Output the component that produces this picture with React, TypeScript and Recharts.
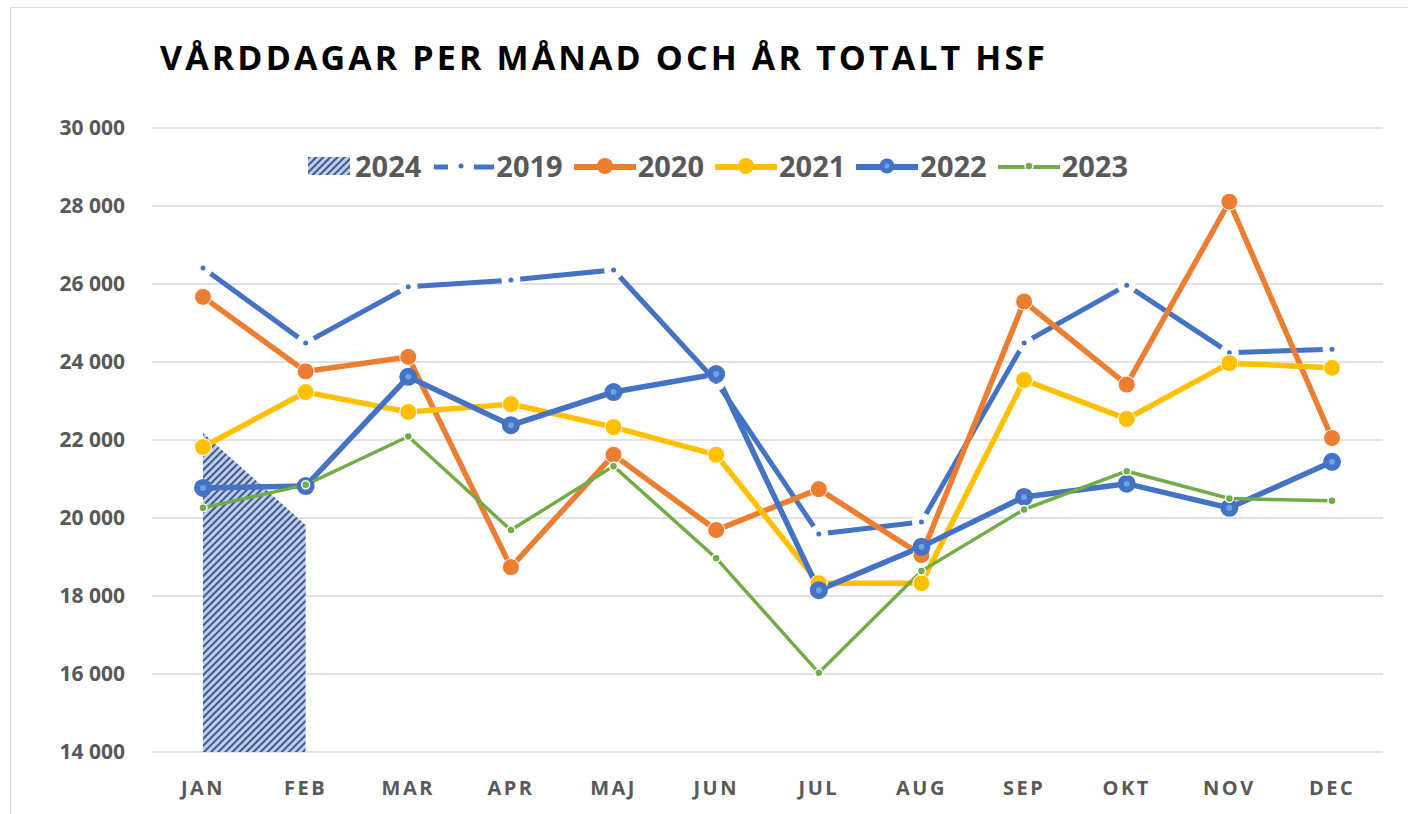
import React from "react";
import { ComposedChart, Line, Area, XAxis, YAxis, CartesianGrid, Legend } from "recharts";

const MONTHS = ["JAN", "FEB", "MAR", "APR", "MAJ", "JUN", "JUL", "AUG", "SEP", "OKT", "NOV", "DEC"];
const Y_TICKS = [14000, 16000, 18000, 20000, 22000, 24000, 26000, 28000, 30000];

// values
const V2024 = [22180, 19820, null, null, null, null, null, null, null, null, null, null];
const V2019 = [26410, 24490, 25930, 26100, 26360, 23500, 19590, 19900, 24490, 25970, 24240, 24330];
const V2020 = [25670, 23760, 24130, 18740, 21620, 19690, 20740, 19050, 25550, 23420, 28110, 22050];
const V2021 = [21820, 23230, 22720, 22920, 22330, 21620, 18330, 18330, 23540, 22540, 23970, 23850];
const V2022 = [20770, 20820, 23620, 22380, 23230, 23690, 18150, 19260, 20540, 20880, 20260, 21440];
const V2023 = [20260, 20850, 22090, 19690, 21330, 18970, 16030, 18640, 20220, 21200, 20500, 20440];

const data = MONTHS.map((m, i) => ({
  month: m,
  y2024: V2024[i],
  y2019: V2019[i],
  y2020: V2020[i],
  y2021: V2021[i],
  y2022: V2022[i],
  y2023: V2023[i],
}));

const BLUE = "#4472c4";
const ORANGE = "#ed7d31";
const YELLOW = "#ffc000";
const GREEN = "#70ad47";
const GREY = "#595959";
const FONT = "'Open Sans', 'Liberation Sans', sans-serif";

const fmt = (v: number) => {
  const s = String(v);
  return s.slice(0, s.length - 3) + " " + s.slice(-3);
};

function HatchDefs() {
  return (
    <pattern id="hatch24" patternUnits="userSpaceOnUse" width="5" height="5" patternTransform="rotate(45)">
      <rect width="5" height="5" fill="#c0cde8" />
      <line x1="1" y1="0" x2="1" y2="5" stroke="#304c88" strokeWidth="1.8" />
    </pattern>
  );
}

function LineIcon({ kind }: { kind: string }) {
  if (kind === "2024") {
    return (
      <svg width={42} height={18} style={{ display: "block" }}>
        <defs><HatchDefs /></defs>
        <rect width={42} height={18} fill="url(#hatch24)" />
      </svg>
    );
  }
  const map: Record<string, { c: string; w: number; r: number; f: string; s: string; sw: number }> = {
    "2020": { c: ORANGE, w: 6, r: 8, f: ORANGE, s: ORANGE, sw: 0 },
    "2021": { c: YELLOW, w: 6, r: 8, f: YELLOW, s: YELLOW, sw: 0 },
    "2022": { c: BLUE, w: 6, r: 5, f: "#6fa3dc", s: BLUE, sw: 5 },
    "2023": { c: GREEN, w: 4, r: 4, f: GREEN, s: "#fff", sw: 1.5 },
  };
  if (kind === "2019") {
    return (
      <svg width={62} height={20} style={{ display: "block" }}>
        <line x1={2} y1={11} x2={16} y2={11} stroke={BLUE} strokeWidth={5} />
        <circle cx={29} cy={10} r={2.5} fill={BLUE} />
        <line x1={42} y1={11} x2={62} y2={11} stroke={BLUE} strokeWidth={5} />
      </svg>
    );
  }
  const m = map[kind];
  return (
    <svg width={62} height={20} style={{ display: "block" }}>
      <line x1={0} y1={11} x2={62} y2={11} stroke={m.c} strokeWidth={m.w} />
      <circle cx={31} cy={10} r={m.r} fill={m.f} stroke={m.s} strokeWidth={m.sw} />
    </svg>
  );
}

const LEGEND_KEYS = ["2024", "2019", "2020", "2021", "2022", "2023"];

function LegendRow() {
  return (
    <div style={{ display: "flex", alignItems: "center", fontFamily: FONT, fontWeight: 700, fontSize: 29, color: GREY, lineHeight: "36px" }}>
      {LEGEND_KEYS.map((k) => (
        <div key={k} style={{ display: "flex", alignItems: "center", marginRight: 11 }}>
          <LineIcon kind={k} />
          <span style={{ marginLeft: k === "2024" ? 5 : 2 }}>{k}</span>
        </div>
      ))}
    </div>
  );
}

export default function App() {
  return (
    <div style={{ position: "fixed", left: 0, top: 0, width: 1408, height: 814, overflow: "hidden", background: "#fff" }}>
      <div style={{ position: "absolute", left: 10, top: 7, width: 1500, height: 900, border: "1.5px solid #d9d9d9" }} />
      <svg width={1408} height={100} style={{ position: "absolute", left: 0, top: 0 }}>
        <text x={160} y={70} fontFamily={FONT} fontWeight={700} fontSize={34} fill="#000" textLength={885} lengthAdjust="spacing">
          VÅRDDAGAR PER MÅNAD OCH ÅR TOTALT HSF
        </text>
      </svg>
      <div style={{ position: "absolute", left: 0, top: 0 }}>
        <ComposedChart width={1408} height={814} data={data} margin={{ top: 128, right: 25, bottom: 0, left: 0 }}>
          <defs>
            <HatchDefs />
          </defs>
          <CartesianGrid vertical={false} stroke="#d9d9d9" strokeWidth={1.5} />
          <XAxis
            dataKey="month"
            scale="point"
            padding={{ left: 51, right: 51 }}
            height={62}
            axisLine={false}
            tickLine={false}
            tickSize={0}
            tickMargin={29}
            tick={{ fill: GREY, fontSize: 20, fontWeight: 700, fontFamily: FONT, letterSpacing: 2.5 }}
          />
          <YAxis
            width={152}
            domain={[14000, 30000]}
            ticks={Y_TICKS}
            allowDataOverflow
            axisLine={false}
            tickLine={false}
            tickSize={0}
            tickMargin={27}
            tickFormatter={fmt}
            tick={{ fill: GREY, fontSize: 21, fontWeight: 700, fontFamily: FONT }}
          />
          <Legend
            verticalAlign="middle"
            align="center"
            content={() => <LegendRow />}
            wrapperStyle={{ top: 148, left: 308, width: 900, height: 36 }}
          />
          <Area
            dataKey="y2024"
            type="linear"
            fill="url(#hatch24)"
            fillOpacity={1}
            stroke="none"
            dot={false}
            activeDot={false}
            isAnimationActive={false}
          />
          <Line
            dataKey="y2019"
            type="linear"
            stroke={BLUE}
            strokeWidth={5}
            dot={{ r: 6, fill: BLUE, stroke: "#fff", strokeWidth: 7 }}
            activeDot={false}
            isAnimationActive={false}
          />
          <Line
            dataKey="y2020"
            type="linear"
            stroke={ORANGE}
            strokeWidth={5.5}
            dot={{ r: 8.5, fill: ORANGE, stroke: "#fff", strokeWidth: 1 }}
            activeDot={false}
            isAnimationActive={false}
          />
          <Line
            dataKey="y2021"
            type="linear"
            stroke={YELLOW}
            strokeWidth={5.5}
            dot={{ r: 8.5, fill: YELLOW, stroke: "#fff", strokeWidth: 1 }}
            activeDot={false}
            isAnimationActive={false}
          />
          <Line
            dataKey="y2022"
            type="linear"
            stroke={BLUE}
            strokeWidth={5.5}
            dot={{ r: 6, fill: "#6fa3dc", stroke: BLUE, strokeWidth: 6 }}
            activeDot={false}
            isAnimationActive={false}
          />
          <Line
            dataKey="y2023"
            type="linear"
            stroke={GREEN}
            strokeWidth={3.5}
            dot={{ r: 4, fill: GREEN, stroke: "#fff", strokeWidth: 1.5 }}
            activeDot={false}
            isAnimationActive={false}
          />
        </ComposedChart>
      </div>
    </div>
  );
}
